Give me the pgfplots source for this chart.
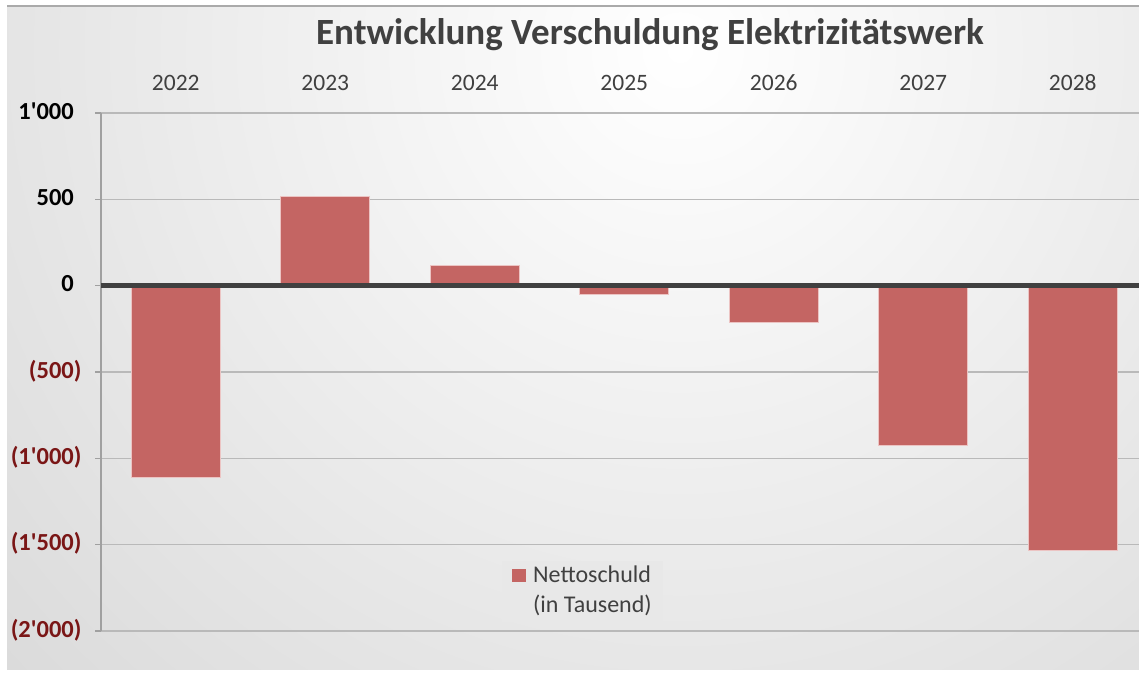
\documentclass[border=0pt]{standalone}
\usepackage{pgfplots}
\pgfplotsset{compat=1.18}
\usepackage{fontspec}
\setmainfont{Carlito}
\newfontfamily\carl{Carlito}
\definecolor{barred}{RGB}{196,101,99}
\definecolor{barborder}{RGB}{236,196,195}
\definecolor{negred}{RGB}{122,22,22}
\definecolor{titlegray}{RGB}{64,64,64}
\definecolor{yeargray}{RGB}{64,64,64}
\definecolor{gridgray}{RGB}{185,185,185}
\definecolor{axisgray}{RGB}{160,160,160}
\definecolor{zeroline}{RGB}{64,64,64}
\definecolor{bgout}{RGB}{184,184,184}
\definecolor{bordergray}{RGB}{170,170,170}
\definecolor{legendbg}{RGB}{232,232,232}
\definecolor{legendtext}{RGB}{64,64,64}
\begin{document}
\begin{tikzpicture}[x=1pt,y=1pt]
\fill[white] (0,0) rectangle (1139,675);
\begin{scope}
\clip (7,6) rectangle (1139,669);
\fill[bgout] (7,6) rectangle (1139,669);
\shade[inner color=white, outer color=bgout] (680,625) circle (1800);
\end{scope}
\draw[bordergray, line width=1.5pt] (7,669) -- (1139,669);
\begin{axis}[
  at={(101pt,44pt)}, anchor=south west,
  scale only axis, width=1038pt, height=518pt,
  xmin=-0.5, xmax=6.443, ymin=-2000, ymax=1000,
  axis x line*=top, axis y line*=left,
  x axis line style={draw=none},
  y axis line style={-, draw=axisgray, line width=1.5pt},
  xtick={0,1,2,3,4,5,6},
  xticklabels={2022,2023,2024,2025,2026,2027,2028},
  xtick style={draw=none},
  ytick={-2000,-1500,-1000,-500,0,500,1000},
  yticklabels={{\textcolor{negred}{(2'000)}},{\textcolor{negred}{(1'500)}},{\textcolor{negred}{(1'000)}},{\textcolor{negred}{(500)}},{0\phantom{)}},{500\phantom{)}},{1'000\phantom{)}}},
  ytick style={draw=axisgray, line width=1.2pt},
  tick align=outside, major tick length=6pt,
  ymajorgrids, major grid style={draw=gridgray, line width=1.5pt},
  xticklabel style={font=\carl\fontsize{23.5}{28}\selectfont, text=yeargray, yshift=13pt},
  yticklabel style={font=\carl\bfseries\fontsize{24.5}{28}\selectfont, anchor=east, xshift=-10pt, yshift=1pt},
  ybar, bar width=89pt,
  legend cell align=left,
  legend style={at={(0.3863,0.1351)}, anchor=north west, fill=legendbg, draw=none,
    inner xsep=10pt, inner ysep=3pt, row sep=5pt, column sep=6pt,
    nodes={inner sep=1pt, text height=17pt, text depth=6pt, text=legendtext,
      font=\carl\fontsize{24}{28}\selectfont}},
]
\addplot[fill=barred, draw=barborder, line width=1pt,
  legend image code/.code={\fill[barred] (0pt,-5pt) rectangle (13pt,7pt);}]
  coordinates {(0,-1110) (1,515) (2,115) (3,-52) (4,-215) (5,-927) (6,-1535)};
\addlegendentry{Nettoschuld}
\addlegendimage{empty legend}
\addlegendentry{(in Tausend)}
\draw[zeroline, line width=5pt] (axis cs:-0.5,0) -- (axis cs:6.443,0);
\end{axis}
\node[anchor=base, font=\carl\bfseries\fontsize{37}{44}\selectfont, text=titlegray] at (650,630) {Entwicklung Verschuldung Elektrizitätswerk};
\pgfresetboundingbox
\useasboundingbox (0,0) rectangle (1139,675);
\end{tikzpicture}
\end{document}
